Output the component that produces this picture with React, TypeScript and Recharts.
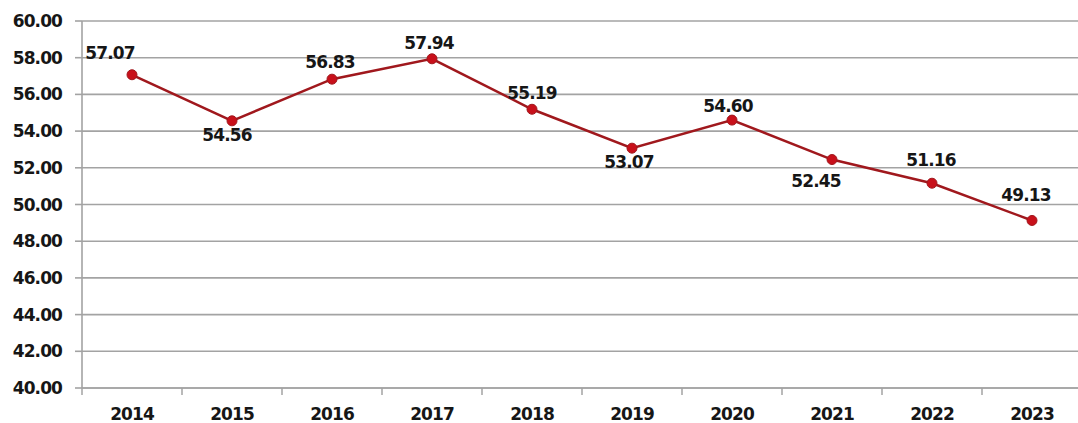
import * as React from 'react';
import { LineChart, Line, XAxis, YAxis, CartesianGrid, LabelList } from 'recharts';

const years = ['2014', '2015', '2016', '2017', '2018', '2019', '2020', '2021', '2022', '2023'];
const values = [57.07, 54.56, 56.83, 57.94, 55.19, 53.07, 54.6, 52.45, 51.16, 49.13];
const yTicks = [40, 42, 44, 46, 48, 50, 52, 54, 56, 58, 60];

// label centre offsets from each point (px)
const labelDx = [-22, -5, -2, -3, 0, -3, -4, -16, -1, -6];
const labelDy = [-22, 14, -17, -16, -16, 14, -14, 21, -23, -25];

const BAND = 100;
const FONT = "'DejaVu Sans', Verdana, sans-serif";
const TEXT = '#161616';
const GRID = '#a3a3a3';
const FS = 17;
const LS = -0.9;

const XTick = (props: any) => {
    const { x, y, payload } = props;
    const bx = x - BAND / 2;
    return (
        <g>
            <line x1={bx} y1={y - 2} x2={bx} y2={y + 5} stroke={GRID} strokeWidth={1.5} />
            <text x={x} y={y + 30} textAnchor="middle" fill={TEXT} fontFamily={FONT} fontWeight="bold"
                fontSize={FS} letterSpacing={LS}>
                {payload.value}
            </text>
        </g>
    );
};

const DataLabel = (props: any) => {
    const { x, y, value, index } = props;
    return (
        <text x={x + labelDx[index]} y={y + labelDy[index]} textAnchor="middle" dominantBaseline="central"
            fill={TEXT} fontFamily={FONT} fontWeight="bold" fontSize={FS} letterSpacing={LS}>
            {Number(value).toFixed(2)}
        </text>
    );
};

export default function App() {
    const rows = years.map((year, i) => ({ year, value: values[i] }));

    return (
        <div style={{ position: 'absolute', left: 0, top: 0, width: 1078, height: 423, overflow: 'hidden', background: '#fff' }}>
            <LineChart width={1082} height={423} data={rows} margin={{ top: 21, right: 0, bottom: 0, left: 0 }}>
                <CartesianGrid vertical={false} stroke={GRID} strokeWidth={1.6} />
                <XAxis dataKey="year" scale="band" height={35} interval={0} tickSize={0} tickMargin={2}
                    axisLine={{ stroke: GRID, strokeWidth: 1.6 }} tickLine={false} tick={<XTick />} />
                <YAxis domain={[40, 60]} ticks={yTicks} width={82} tickSize={7} tickMargin={13}
                    interval={0} tickFormatter={(v: number) => v.toFixed(2)}
                    axisLine={{ stroke: GRID, strokeWidth: 1.6 }} tickLine={{ stroke: GRID, strokeWidth: 1.6 }}
                    tick={{ fill: TEXT, fontFamily: FONT, fontWeight: 'bold', fontSize: FS, letterSpacing: LS }} />
                <Line type="linear" dataKey="value" stroke="#a0181d" strokeWidth={2.5} isAnimationActive={false}
                    dot={{ r: 5, fill: '#c8101a', stroke: '#a0181d', strokeWidth: 1 }}>
                    <LabelList dataKey="value" content={<DataLabel />} />
                </Line>
            </LineChart>
        </div>
    );
}
